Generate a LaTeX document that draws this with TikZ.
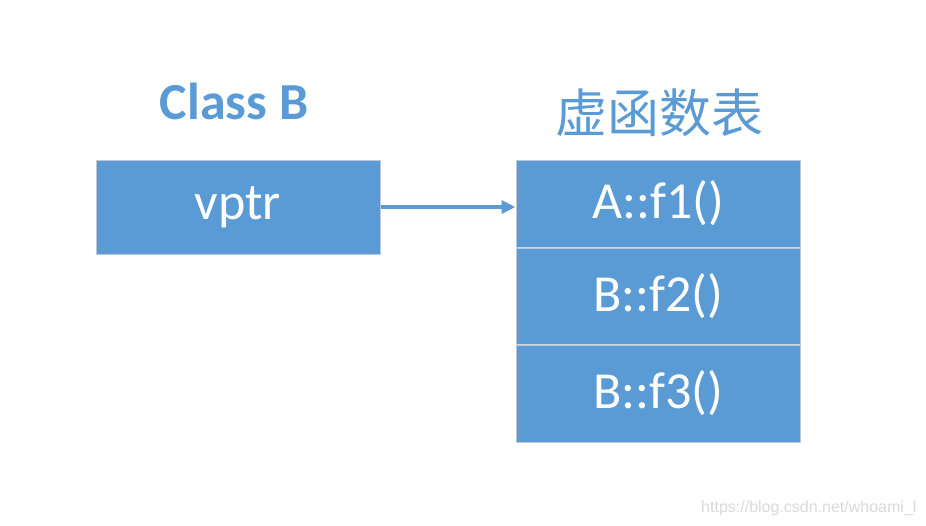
\documentclass[tikz,border=0pt]{standalone}
\usepackage{fontspec}
\setmainfont{Carlito}
\newfontfamily\cjk{Noto Sans CJK SC}
\newfontfamily\wmfont{Liberation Sans}
\usetikzlibrary{arrows.meta, positioning, shadows.blur}
\definecolor{cellblue}{RGB}{91,155,213}
\definecolor{celledge}{RGB}{190,200,212}
\definecolor{celldiv}{RGB}{200,214,232}

\begin{document}
\begin{tikzpicture}[x=1pt, y=-1pt,
  cell/.style={fill=cellblue, draw=celledge, line width=1pt, inner sep=0pt,
    minimum width=284pt, text=white, font=\fontsize{52}{58}\selectfont},
  ptr/.style={-{Triangle[length=14pt, width=13pt]}, cellblue, line width=3.5pt},
  title/.style={text=cellblue}
]
\useasboundingbox (0,0) rectangle (926,525);
\node[cell, minimum height=94pt] (vptr) at (238,207) {vptr};
\node[title, font=\fontsize{52}{58}\selectfont\bfseries] (classB) at (234,101) {Class B};
\node[cell, minimum height=87pt] (f1) at (658,203.5) {A::f1()};
\node[cell, minimum height=96pt, below=0pt of f1] (f2) {B::f2()};
\node[cell, minimum height=97pt, below=0pt of f2] (f3) {B::f3()};
\draw[celldiv, line width=1.2pt] (f1.south west) -- (f1.south east);
\draw[celldiv, line width=1.2pt] (f2.south west) -- (f2.south east);
\node[title, font=\cjk\fontsize{52}{58}\selectfont] (vtbl) at (659,113) {虚函数表};
\draw[ptr] (vptr.east) -- (vptr.east -| f1.west);
\node[text=black!15, font=\wmfont\fontsize{16}{18}\selectfont, anchor=east] (mark) at (920,508) {https://blog.csdn.net/whoami\_l};
\end{tikzpicture}
\end{document}
